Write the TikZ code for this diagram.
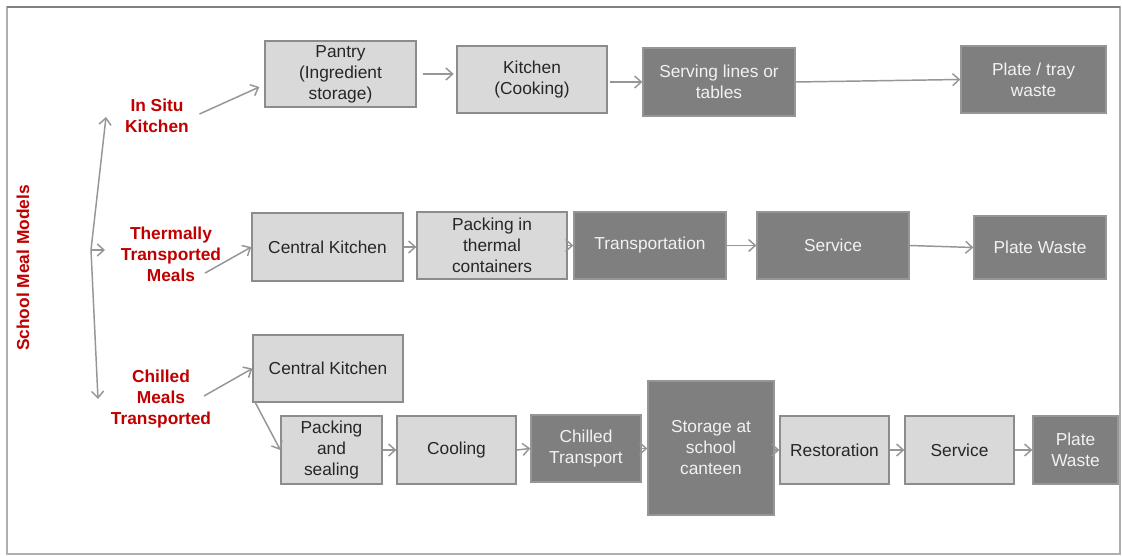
\documentclass[tikz,border=0pt]{standalone}
\usepackage{fontspec}
\setmainfont{Liberation Sans}
\usetikzlibrary{calc,arrows.meta}
\definecolor{stagefill}{RGB}{217,217,217}
\definecolor{stageline}{RGB}{140,140,140}
\definecolor{stagetext}{RGB}{38,38,38}
\definecolor{sitefill}{RGB}{127,127,127}
\definecolor{siteline}{RGB}{150,150,150}
\definecolor{sitetext}{RGB}{242,242,242}
\definecolor{modelred}{RGB}{192,0,0}
\definecolor{flowgray}{RGB}{150,150,150}
\definecolor{framegray}{RGB}{175,175,175}

\begin{document}
\begin{tikzpicture}[x=0.75pt,y=-0.75pt]

\useasboundingbox (0,0) rectangle (1122,556);
\fill[white] (0,0) rectangle (1122,556);

% Each stage is specified as:
% \mealstage{name}{x}{y}{width}{height}{style}{text}
\newcommand{\mealstage}[7]{%
  \node[#6, minimum width=#4*0.75pt, minimum height=#5*0.75pt] (#1)
    at ($(#2,#3)+(#4/2,#5/2)$) {#7};
}

\tikzset{
  lightstage/.style={
    draw=stageline, fill=stagefill, text=stagetext,
    line width=1pt, align=center, inner sep=0pt,
    font=\fontsize{13}{15.75}\selectfont
  },
  darkstage/.style={lightstage, draw=siteline, fill=sitefill, text=sitetext},
  model/.style={
    text=modelred, align=center,
    font=\fontsize{13}{15.75}\selectfont\bfseries
  },
  flow/.style={
    draw=flowgray, line width=1.1pt,
    -{Straight Barb[length=5pt,width=9pt]}
  }
}

% Outer frame.
\draw[framegray, line width=1pt] (7,7) rectangle (1120,554);
\draw[gray, line width=1.5pt] (7,7) -- (1120,7);

% Model labels.
\node[model, rotate=90] (models) at (23,268) {School Meal Models};
\node[model] (insitu) at (157,116) {In Situ\\Kitchen};
\node[model] (thermal) at (171,254) {Thermally\\Transported\\Meals};
\node[model] (chilled) at (161,399) {Chilled\\Meals\\Transported};

% In situ kitchen.
\mealstage{pantry}{265}{41}{151}{66}{lightstage}{Pantry\\(Ingredient\\storage)}
\mealstage{kitchen}{457}{46}{150}{67}{lightstage}{Kitchen\\(Cooking)}
\mealstage{serving}{643}{48}{152}{68}{darkstage}{Serving lines or\\tables}
\mealstage{traywaste}{961}{46}{145}{67}{darkstage}{Plate / tray\\waste}

% Thermally transported meals.
\mealstage{centralhot}{252}{213}{151}{68}{lightstage}{Central Kitchen}
\mealstage{packhot}{417}{212}{150}{67}{lightstage}{Packing in\\thermal\\containers}
\mealstage{transport}{574}{212}{152}{67}{darkstage}{Transportation}
\mealstage{servicehot}{757}{212}{152}{67}{darkstage}{Service}
\mealstage{wastehot}{974}{216}{132}{63}{darkstage}{Plate Waste}

% Chilled meals transported.
\mealstage{centralcold}{253}{335}{150}{67}{lightstage}{Central Kitchen}
\mealstage{packcold}{281}{416}{101}{68}{lightstage}{Packing\\and\\sealing}
\mealstage{cooling}{397}{416}{119}{68}{lightstage}{Cooling}
\mealstage{chilltransport}{531}{415}{110}{67}{darkstage}{Chilled\\Transport}
\mealstage{canteen}{648}{381}{126}{134}{darkstage}{Storage at\\school\\canteen}
\mealstage{restoration}{780}{416}{109}{68}{lightstage}{Restoration}
\mealstage{servicecold}{905}{416}{109}{68}{lightstage}{Service}
\mealstage{wastecold}{1033}{416}{85}{68}{darkstage}{Plate\\Waste}

% Branches from the model axis.
\coordinate (hub) at (91,250);
\coordinate (uptip) at (106,117);
\coordinate (midtip) at (105,250);
\coordinate (downtip) at (98,399);
\draw[flow] (hub) -- (uptip);
\draw[flow] (hub) -- (midtip);
\draw[flow] (hub) -- (downtip);

% In situ flow.
\draw[flow] ($(insitu.east)+(6,-2)$) -- ($(pantry.west)+(-5,13)$);
\draw[flow, shorten <=4.5pt, shorten >=2pt] (pantry.east) -- (pantry.east -| kitchen.west);
\draw[flow, shorten <=2pt] (kitchen.east |- serving.west) -- (serving.west);
\draw[flow] (serving.east) -- (traywaste.west);

% Thermal flow.
\draw[flow] ($(thermal.south)+(34,-13)$) -- (centralhot.west);
\draw[flow] (centralhot.east) -- (centralhot.east -| packhot.west);
\draw[flow] (packhot.east |- transport.west) -- (transport.west);
\draw[flow] (transport.east) -- (transport.east -| servicehot.west);
\draw[flow] (servicehot.east) -- (wastehot.west);

% Chilled flow.
\draw[flow] ($(chilled.center)+(43,-3)$) -- (centralcold.west);
\draw[flow] ($(centralcold.south west)+(3,0)$) -- (packcold.west);
\draw[flow] (packcold.east) -- (cooling.west);
\draw[flow] (cooling.east) -- (chilltransport.west);
\draw[flow] (chilltransport.east) -- (chilltransport.east -| canteen.west);
\draw[flow] (canteen.east |- restoration.west) -- (restoration.west);
\draw[flow] (restoration.east) -- (servicecold.west);
\draw[flow] (servicecold.east) -- (wastecold.west);

\end{tikzpicture}
\end{document}
